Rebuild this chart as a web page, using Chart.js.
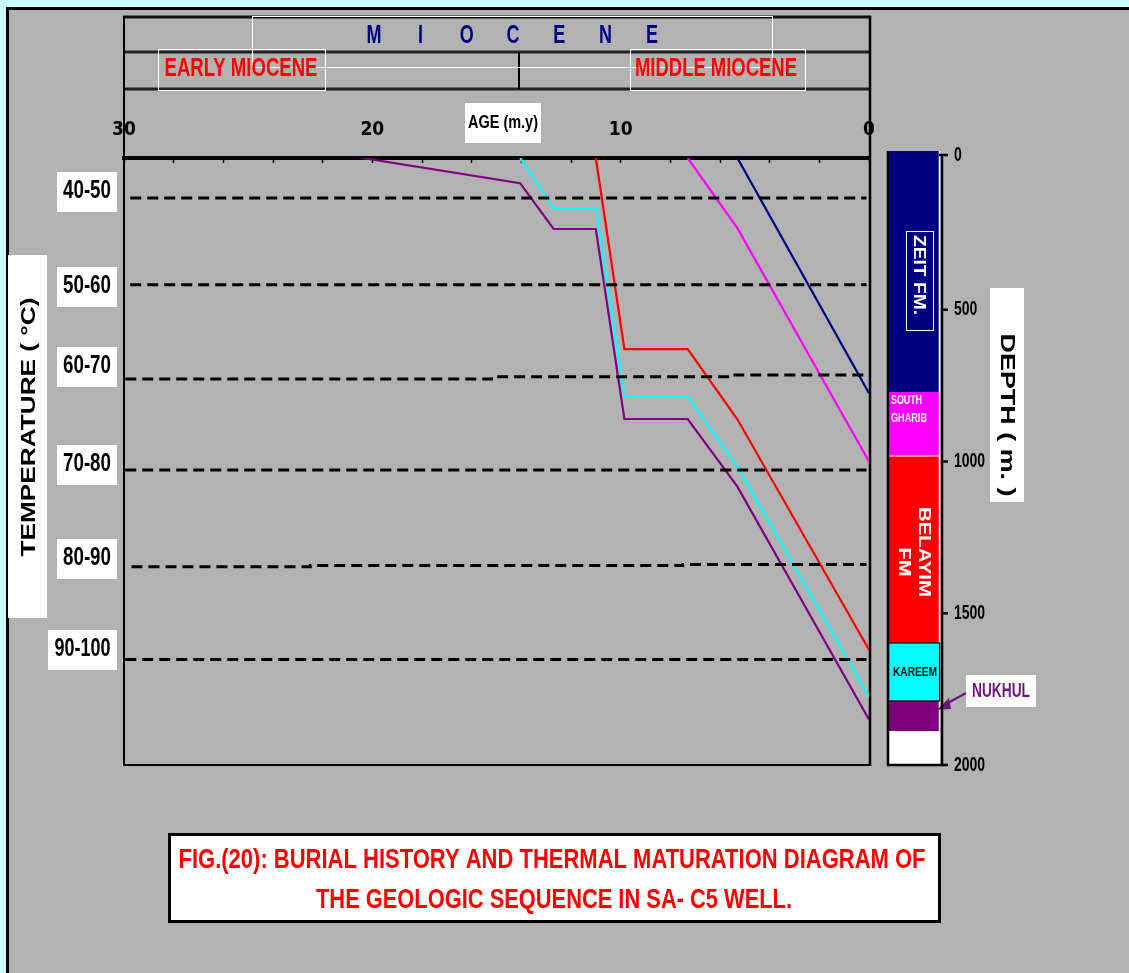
<!DOCTYPE html>
<html><head><meta charset="utf-8">
<script src="https://cdn.jsdelivr.net/npm/chart.js@4.4.0/dist/chart.umd.min.js"></script>
<style>html,body{margin:0;padding:0;background:#ccffff;overflow:hidden}#wrap{width:1129px;height:973px;position:relative}canvas{display:block}</style>
</head><body><div id="wrap"><canvas id="c" width="1129" height="973"></canvas></div>
<script>
// ---------------- DATA ----------------
const ageTicks = [30, 20, 10, 0];
const depthTicks = [0, 500, 1000, 1500, 2000];

// burial curves (age in m.y., depth in m)
const zeitAge = [5.3, 0];
const zeitDepth = [0, 775];
const southGharibAge = [7.3, 5.3, 0];
const southGharibDepth = [0, 231, 1000];
const belayimAge = [11.0, 9.85, 7.3, 5.3, 0];
const belayimDepth = [0, 630, 630, 861, 1620];
const kareemAge = [14.05, 12.7, 11.0, 9.85, 7.3, 5.3, 0];
const kareemDepth = [0, 166, 166, 785, 785, 1017, 1776];
const nukhulAge = [20.4, 14.05, 12.7, 11.0, 9.85, 7.3, 5.3, 0];
const nukhulDepth = [0, 83, 234, 234, 860, 860, 1083, 1850];

// isotherms (dashed)
const isoLabels = ['40-50', '50-60', '60-70', '70-80', '80-90', '90-100'];
const iso40Age = [29.75, 0.1];                  const iso40Depth = [132, 132];
const iso50Age = [29.75, 0.1];                  const iso50Depth = [418, 418];
const iso60Age = [29.95, 15.2, 15.2, 5.4, 5.4, 0.1]; const iso60Depth = [728, 728, 721, 721, 715, 715];
const iso70Age = [29.95, 0.1];                  const iso70Depth = [1028, 1028];
const iso80Age = [29.7, 22.5, 22.5, 7.5, 7.5, 0.1];  const iso80Depth = [1347, 1347, 1343, 1343, 1339, 1339];
const iso90Age = [29.95, 0.1];                  const iso90Depth = [1652, 1652];

// stratigraphic column
const formationNames = ['ZEIT FM.', 'SOUTH GHARIB', 'BELAYIM FM', 'KAREEM', 'NUKHUL'];
const formationTop  = [0, 771, 982, 1598, 1789];
const formationBase = [771, 982, 1598, 1789, 1888];

const epochLabel = 'M I O C E N E';
const subEpochLabels = ['EARLY MIOCENE', 'MIDDLE MIOCENE'];
const captionLines = ['FIG.(20): BURIAL HISTORY AND THERMAL MATURATION DIAGRAM OF', 'THE GEOLOGIC SEQUENCE IN SA- C5 WELL.'];

// ---------------- STYLE / LAYOUT ----------------
const FONT = '"Liberation Sans", Arial, sans-serif';
const NARROW = '"Liberation Sans Narrow", "Arial Narrow", "DejaVu Sans Condensed", "Liberation Sans", sans-serif';
const formationColors = ['#000080', '#ff00ff', '#ff0000', '#00ffff', '#800080'];
const curves = [
  {age: zeitAge, depth: zeitDepth, color: '#000080'},
  {age: southGharibAge, depth: southGharibDepth, color: '#ff00ff'},
  {age: belayimAge, depth: belayimDepth, color: '#ff0000'},
  {age: kareemAge, depth: kareemDepth, color: '#00ffff'},
  {age: nukhulAge, depth: nukhulDepth, color: '#800080'}
];
const isotherms = [
  {age: iso40Age, depth: iso40Depth}, {age: iso50Age, depth: iso50Depth},
  {age: iso60Age, depth: iso60Depth}, {age: iso70Age, depth: iso70Depth},
  {age: iso80Age, depth: iso80Depth}, {age: iso90Age, depth: iso90Depth}
];
const isoLabelBoxTop = [172, 267, 347, 445, 539, 630];

function pts(a, d) { return a.map((v, i) => ({x: v, y: d[i]})); }

function txt(ctx, s, cx, cy, o) {
  ctx.save();
  ctx.font = o.font; ctx.fillStyle = o.color || '#000';
  ctx.textBaseline = 'middle'; ctx.textAlign = o.align || 'center';
  ctx.translate(cx, cy);
  if (o.rot) ctx.rotate(o.rot);
  if (o.width) { const m = ctx.measureText(s).width; ctx.scale(o.width / m, 1); }
  else if (o.sx) ctx.scale(o.sx, 1);
  ctx.fillText(s, 0, 0);
  ctx.restore();
}
function line(ctx, x1, y1, x2, y2, w, c) {
  ctx.save(); ctx.strokeStyle = c; ctx.lineWidth = w; ctx.beginPath();
  ctx.moveTo(x1, y1); ctx.lineTo(x2, y2); ctx.stroke(); ctx.restore();
}
function whiteRect(ctx, x, y, w, h, fill) {
  ctx.save();
  if (fill) { ctx.fillStyle = '#fff'; ctx.fillRect(x, y, w, h); }
  else { ctx.strokeStyle = '#fff'; ctx.lineWidth = 1; ctx.strokeRect(x + 0.5, y + 0.5, w, h); }
  ctx.restore();
}

const decor = {
  id: 'decor',
  beforeDraw(chart) {
    const ctx = chart.ctx;
    ctx.save();
    ctx.fillStyle = '#ccffff'; ctx.fillRect(0, 0, 1129, 973);
    ctx.fillStyle = '#000'; ctx.fillRect(6, 7, 1123, 3); ctx.fillRect(6, 7, 3, 966);
    ctx.fillStyle = '#b2b2b2'; ctx.fillRect(9, 10, 1120, 963);
    ctx.restore();
    // header frame
    line(ctx, 123, 17, 871, 17, 3, '#111');
    line(ctx, 123, 52, 871, 52, 3, '#222');
    line(ctx, 123, 89, 871, 89, 3, '#222');
    line(ctx, 519, 52, 519, 89, 2, '#000');
    line(ctx, 124, 16, 124, 766, 2, '#000');
    line(ctx, 870, 16, 870, 766, 2.5, '#000');
    line(ctx, 123, 765, 871, 765, 2, '#000');
    whiteRect(ctx, 252, 16, 520, 51);
    whiteRect(ctx, 158, 49, 167, 41);
    whiteRect(ctx, 630, 49, 175, 41);
    // MIOCENE letters
    const letters = epochLabel.split(' ');
    letters.forEach((l, i) => txt(ctx, l, 513 + (i - 3) * 46.3, 36, {font: 'bold 25px ' + FONT, color: '#000080', sx: 0.72}));
    txt(ctx, subEpochLabels[0], 241, 69, {font: 'bold 26px ' + FONT, color: '#ff0000', width: 153});
    txt(ctx, subEpochLabels[1], 716, 69, {font: 'bold 26px ' + FONT, color: '#ff0000', width: 162});
    // AGE label
    whiteRect(ctx, 465, 103, 76, 40, true);
    txt(ctx, 'AGE (m.y)', 503, 123, {font: 'bold 18px ' + FONT, width: 70});
  },
  afterDraw(chart) {
    const ctx = chart.ctx, ys = chart.scales.y;
    // temperature labels
    isoLabels.forEach((lab, i) => {
      const x0 = i === 5 ? 48 : 57;
      whiteRect(ctx, x0, isoLabelBoxTop[i], 117 - x0, 40, true);
      txt(ctx, lab, (x0 + 117) / 2, isoLabelBoxTop[i] + 19, {font: 'bold 26px ' + FONT, width: i === 5 ? 56 : 48});
    });
    whiteRect(ctx, 8, 255, 39, 363, true);
    txt(ctx, 'TEMPERATURE ( °C)', 29, 427, {font: 'bold 21px ' + FONT, rot: -Math.PI / 2, width: 259});

    // stratigraphic column
    const cx0 = 888, cx1 = 939;
    formationTop.forEach((t, i) => {
      const yt = ys.getPixelForValue(t) - (i === 0 ? 7 : 0);
      const yb = ys.getPixelForValue(formationBase[i]);
      ctx.fillStyle = formationColors[i];
      ctx.fillRect(cx0, yt, cx1 - cx0, yb - yt);
    });
    const yEnd = ys.getPixelForValue(formationBase[4]);
    ctx.fillStyle = '#fff'; ctx.fillRect(cx0, yEnd, cx1 - cx0, ys.getPixelForValue(2000) - yEnd);
    line(ctx, cx1 + 0.5, ys.getPixelForValue(0) - 7, cx1 + 0.5, 765, 1.5, '#fff');
    line(ctx, cx0, ys.getPixelForValue(formationTop[2]), cx1, ys.getPixelForValue(formationTop[2]), 1, '#fff');
    ctx.save(); ctx.strokeStyle = '#000'; ctx.lineWidth = 1.2;
    const kt = ys.getPixelForValue(formationTop[3]), kb = ys.getPixelForValue(formationBase[3]);
    ctx.strokeRect(cx0 + 0.5, kt, cx1 - cx0, kb - kt); ctx.restore();
    line(ctx, cx0, ys.getPixelForValue(0) - 7, cx0, 766, 2.5, '#000');
    line(ctx, cx0 - 1, 765, 943, 765, 2.5, '#000');
    // formation texts
    const midY = i => (ys.getPixelForValue(formationTop[i]) + ys.getPixelForValue(formationBase[i])) / 2;
    whiteRect(ctx, 906, 231, 27, 99);
    txt(ctx, formationNames[0], 919, 275, {font: 'bold 17px ' + FONT, color: '#fff', rot: Math.PI / 2, width: 80});
    const sg = formationNames[1].split(' ');
    txt(ctx, sg[0], 891, 401, {font: 'bold 12px ' + FONT, color: '#fff', align: 'left', width: 31});
    txt(ctx, sg[1], 891, 419, {font: 'bold 12px ' + FONT, color: '#fff', align: 'left', width: 36});
    const bl = formationNames[2].split(' ');
    txt(ctx, bl[0], 924, 552, {font: 'bold 17px ' + FONT, color: '#fff', rot: Math.PI / 2, width: 90});
    txt(ctx, bl[1], 904, 562, {font: 'bold 17px ' + FONT, color: '#fff', rot: Math.PI / 2, width: 29});
    txt(ctx, formationNames[3], 915, midY(3) + 1, {font: 'bold 12px ' + FONT, color: '#000', width: 44});
    // Nukhul callout
    whiteRect(ctx, 966, 675, 70, 32, true);
    txt(ctx, formationNames[4], 1001, 691, {font: 'bold 20px ' + FONT, color: '#70147a', width: 58});
    line(ctx, 966, 693, 946, 704, 2, '#70147a');
    ctx.save(); ctx.fillStyle = '#70147a'; ctx.beginPath();
    ctx.moveTo(937, 710); ctx.lineTo(949, 698); ctx.lineTo(951, 709); ctx.closePath(); ctx.fill(); ctx.restore();

    // depth axis
    const ax = 942;
    line(ctx, ax, ys.getPixelForValue(0) - 4, ax, ys.getPixelForValue(2000) + 1, 2.5, '#000');
    depthTicks.forEach(d => {
      const py = ys.getPixelForValue(d) - (d === 0 ? 3 : 0);
      line(ctx, ax - (d === 0 ? 3 : 0), py, ax + 6, py, 2.5, '#000');
      txt(ctx, String(d), 954, py, {font: 'bold 20px ' + FONT, align: 'left', sx: 0.7});
    });
    whiteRect(ctx, 990, 288, 34, 214, true);
    txt(ctx, 'DEPTH ( m. )', 1007, 415, {font: 'bold 20px ' + FONT, rot: Math.PI / 2, width: 163});

    // caption
    ctx.save(); ctx.fillStyle = '#fff'; ctx.fillRect(169, 834, 771, 88);
    ctx.strokeStyle = '#000'; ctx.lineWidth = 3; ctx.strokeRect(169.5, 834.5, 770, 87); ctx.restore();
    txt(ctx, captionLines[0], 552, 860, {font: 'bold 28px ' + FONT, color: '#ff0000', width: 747});
    txt(ctx, captionLines[1], 554, 900, {font: 'bold 28px ' + FONT, color: '#ff0000', width: 476});
  }
};

const datasets = [];
isotherms.forEach(s => datasets.push({
  data: pts(s.age, s.depth), borderColor: '#000', borderWidth: 3, borderDash: [11, 6],
  borderCapStyle: 'butt', pointRadius: 0, showLine: true, fill: false, tension: 0
}));
curves.forEach(s => datasets.push({
  data: pts(s.age, s.depth), borderColor: s.color, borderWidth: 2.2,
  pointRadius: 0, showLine: true, fill: false, tension: 0
}));

new Chart(document.getElementById('c'), {
  type: 'scatter',
  data: {datasets},
  options: {
    responsive: false, animation: false, devicePixelRatio: 1,
    layout: {padding: {left: 124, right: 260, top: 118, bottom: 208}},
    plugins: {legend: {display: false}, tooltip: {enabled: false}},
    scales: {
      x: {
        type: 'linear', position: 'top', min: 0, max: 30, reverse: true,
        afterFit(s) { s.height = 40; },
        ticks: {
          stepSize: 2, autoSkip: false, maxRotation: 0, padding: 22, color: '#000',
          font: {family: NARROW, size: 19, weight: 'bold'},
          callback: v => ageTicks.includes(v) ? String(v) : ''
        },
        grid: {drawOnChartArea: false, drawTicks: true, tickLength: -5, tickColor: '#000', tickWidth: 1.5},
        border: {display: true, color: '#000', width: 4}
      },
      y: {type: 'linear', min: 0, max: 2000, reverse: true, display: false}
    }
  },
  plugins: [decor]
});
</script>
</body></html>
